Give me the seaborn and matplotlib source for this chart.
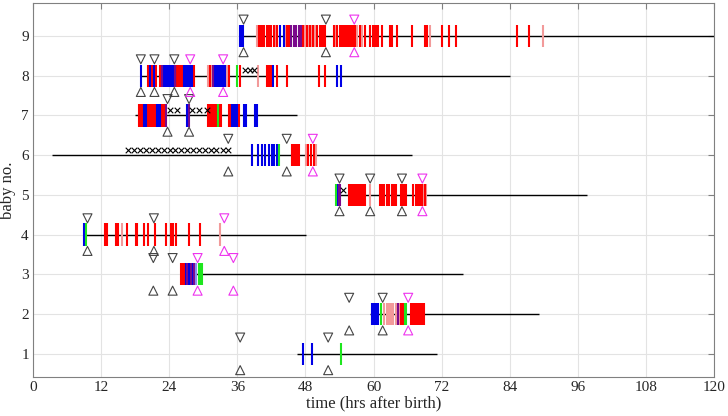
import matplotlib
matplotlib.use("Agg")
import matplotlib.pyplot as plt
import seaborn as sns
import numpy as np
import pandas as pd

sns.set_style("whitegrid")
plt.rcParams['font.family'] = ['Liberation Serif', 'DejaVu Serif']
plt.rcParams['font.size'] = 11

# recording span for each baby (start, end in hrs after birth)
babies = [9, 8, 7, 6, 5, 4, 3, 2, 1]
span_start = [36.5, 18.9, 18.0, 3.3, 53.5, 9.2, 26.1, 59.3, 46.5]
span_end = [121.0, 84.0, 46.5, 66.7, 97.6, 48.1, 75.7, 89.2, 71.1]

# event times by colour, per baby
red_events = {
    9: [39.8, 40.1, 40.4, 40.7, 41.2, 41.6, 42.0, 42.5, 43.0, 44.8, 45.1, 47.6, 48.2,
        48.8, 49.4, 50.0, 50.6, 50.9, 51.2, 51.5, 53.0, 53.6, 54.0, 54.4, 54.7, 55.0,
        55.3, 55.6, 55.9, 56.2, 56.5, 56.8, 57.6, 58.5, 59.4, 59.9, 60.2, 60.5, 60.8,
        61.4, 62.9, 63.2, 64.1, 66.7, 69.1, 69.4, 72.1, 73.2, 74.5, 85.2, 87.3],
    8: [20.3, 20.9, 21.6, 22.4, 22.6, 25.3, 25.6, 25.9, 26.2, 28.4, 31.1, 34.6, 36.5,
        41.2, 41.6, 42.0, 43.0, 44.7, 50.3, 51.5],
    7: [18.7, 19.0, 19.3, 20.3, 20.6, 20.9, 21.2, 21.5, 22.7, 23.0, 30.8, 31.1, 31.4,
        31.7, 32.0, 32.3, 32.8, 33.1, 34.6, 34.8, 36.3],
    6: [45.7, 46.0, 46.3, 46.6, 46.9, 48.5, 49.0, 49.5],
    5: [55.7, 56.0, 56.3, 56.7, 57.0, 57.3, 57.6, 57.9, 58.2, 58.5, 61.1, 61.5, 61.9,
        62.3, 62.7, 63.2, 63.6, 64.0, 64.8, 65.1, 65.4, 65.7, 67.0, 67.4, 67.8, 68.2,
        68.6, 69.0],
    4: [12.7, 13.0, 14.6, 14.9, 16.6, 18.1, 18.3, 19.6, 20.3, 21.5, 23.4, 24.4, 24.7,
        25.2, 27.4, 29.4],
    3: [26.1, 26.4, 26.7],
    2: [64.8, 65.1, 66.6, 66.9, 67.2, 67.5, 67.8, 68.1, 68.4, 68.7, 68.9],
    1: [],
}
pale_red_events = {
    9: [39.5, 41.8, 42.8, 44.5, 46.0, 47.9, 48.5, 49.1, 49.7, 53.3, 57.1, 58.0, 70.0, 89.9],
    8: [21.0, 30.8, 31.5, 34.2, 39.7, 41.8],
    7: [],
    6: [48.1, 49.8],
    5: [56.1, 59.4, 61.7, 63.4, 68.8, 69.3],
    4: [15.6, 33.0],
    3: [],
    2: [61.9, 62.3, 62.7, 63.1, 63.5, 63.9, 64.1, 64.6],
    1: [],
}
blue_events = {
    9: [36.5, 36.8, 37.0, 43.6, 44.2],
    8: [19.0, 20.6, 21.3, 22.9, 23.2, 23.5, 23.8, 24.1, 24.4, 24.7, 25.0, 26.6, 26.9,
        27.2, 27.5, 27.8, 28.1, 32.0, 32.3, 32.6, 32.9, 33.2, 33.5, 33.8, 42.3, 53.6, 54.2],
    7: [19.6, 19.9, 21.8, 22.1, 22.4, 27.2, 35.1, 35.4, 35.7, 36.0, 37.2, 37.5, 39.1, 39.4],
    6: [38.5, 39.7, 40.3, 40.9, 41.5, 42.1, 42.5, 42.9],
    5: [53.6],
    4: [9.0],
    3: [26.9, 27.5, 28.1],
    2: [59.7, 60.0, 60.3, 60.6, 60.8],
    1: [47.5, 49.1],
}
purple_events = {
    9: [45.5, 45.9, 46.3, 46.8, 47.2],
    8: [22.7, 25.1, 31.8],
    7: [23.4, 27.5],
    6: [],
    5: [53.9, 54.1],
    4: [],
    3: [27.2, 27.8, 28.4],
    2: [64.3],
    1: [],
}
green_events = {
    9: [], 8: [36.0], 7: [32.6], 6: [43.3], 5: [53.4], 4: [9.3],
    3: [29.2, 29.5, 29.8], 2: [61.3, 65.5, 65.8], 1: [54.2],
}
pale_blue_events = {3: [28.7]}

# markers
cross_events = {
    8: [37.3, 38.2, 39.0],
    7: [24.1, 25.3, 28.0, 29.3, 30.6],
    6: [16.8, 17.8, 18.9, 19.9, 21.0, 22.0, 23.0, 24.1, 25.1, 26.1, 27.2, 28.2,
        29.2, 30.3, 31.3, 32.3, 33.4, 34.4],
    5: [54.7],
}
black_tri = {
    9: [37.1, 51.6], 8: [19.0, 21.4, 24.9], 7: [23.7, 27.5], 6: [34.4, 44.7],
    5: [54.0, 59.4, 65.0], 4: [9.6, 21.3], 3: [21.2, 24.6], 2: [55.7, 61.6], 1: [36.5, 52.0],
}
magenta_tri = {
    9: [56.6], 8: [27.7, 33.5], 6: [49.3], 5: [68.6], 4: [33.7], 3: [29.0, 35.3], 2: [66.1],
}

colors = {
    'red': '#ff0000', 'pale_red': '#f29a9a', 'blue': '#0000e6',
    'purple': '#7a0a8c', 'green': '#1ee61e', 'pale_blue': '#8c8cf0',
}


def to_long(d, kind):
    rows = [(b, t, kind) for b, ts in d.items() for t in ts]
    return pd.DataFrame(rows, columns=['baby', 'time', 'kind'])


events = pd.concat([
    to_long(pale_red_events, 'pale_red'),
    to_long(red_events, 'red'),
    to_long(blue_events, 'blue'),
    to_long(purple_events, 'purple'),
    to_long(pale_blue_events, 'pale_blue'),
    to_long(green_events, 'green'),
], ignore_index=True)

fig = plt.figure(figsize=(7.28, 4.16), dpi=100)
ax = fig.add_axes([0.0453, 0.094, 0.9357, 0.899])

# baselines
ax.hlines(babies, span_start, span_end, color='black', linewidth=1.0, zorder=2)

# event ticks
for kind, grp in events.groupby('kind', sort=False):
    ax.vlines(grp['time'], grp['baby'] - 0.28, grp['baby'] + 0.28,
              color=colors[kind], linewidth=1.5, zorder=3)

# crosses
cx = to_long(cross_events, 'x')
sns.scatterplot(x=cx['time'], y=cx['baby'] + 0.13, marker='x', color='black',
                s=16, linewidth=0.8, ax=ax, zorder=4)

# triangles above (down) and below (up)
for d, c in [(black_tri, '#444444'), (magenta_tri, '#ee33ee')]:
    tri = to_long(d, 'tri')
    sns.scatterplot(x=tri['time'], y=tri['baby'] + 0.41, marker='v', s=42,
                    facecolor='none', edgecolor=c, color=c, linewidth=0.8, ax=ax, zorder=4)
    sns.scatterplot(x=tri['time'], y=tri['baby'] - 0.41, marker='^', s=42,
                    facecolor='none', edgecolor=c, color=c, linewidth=0.8, ax=ax, zorder=4)

ax.set_xlim(0, 120)
ax.set_ylim(0.42, 9.83)
ax.set_xticks(np.arange(0, 121, 12))
ax.set_yticks(range(1, 10))
ax.set_xlabel('time (hrs after birth)', fontsize=12, labelpad=1)
ax.set_ylabel('baby no.', fontsize=12, labelpad=4)
ax.grid(True, color='#e3e3e3', linewidth=0.8)
ax.set_axisbelow(True)
for s in ax.spines.values():
    s.set_color('#808080')
    s.set_linewidth(0.8)
ax.tick_params(axis='both', direction='in', length=4, color='#808080',
               top=True, right=True, labelsize=11, pad=3)

fig.savefig('out.png', dpi=100)
